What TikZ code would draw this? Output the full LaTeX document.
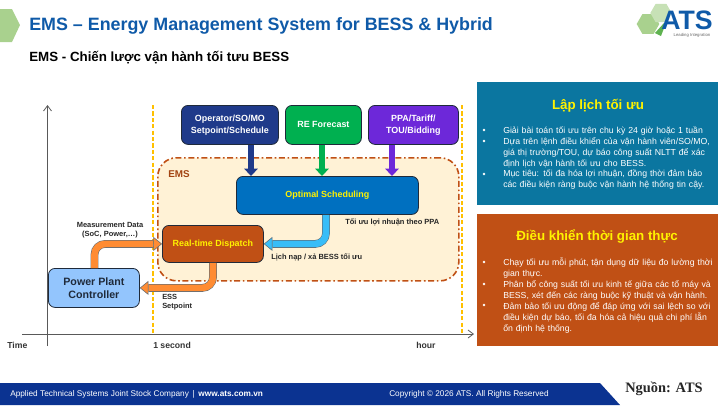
\documentclass[tikz,border=0pt]{standalone}
\usepackage{fontspec}
\setmainfont{Liberation Sans}
\newfontfamily\serifbold{Liberation Serif}
\usepackage{tikz}
\usetikzlibrary{arrows.meta,positioning,shapes.geometric,calc}
\definecolor{ATSBlue}{HTML}{0F5AA8}
\definecolor{ATSNavy}{HTML}{0B3391}
\definecolor{ATSGreen}{HTML}{A9D18E}
\definecolor{OpNavy}{HTML}{1F3A8A}
\definecolor{ReGreen}{HTML}{00B050}
\definecolor{PpaPurple}{HTML}{6D28D9}
\definecolor{SchedBlue}{HTML}{0070C0}
\definecolor{RtOrange}{HTML}{C05015}
\definecolor{PanelBlue}{HTML}{0B76A0}
\definecolor{EmsFill}{HTML}{FFF2D6}
\definecolor{PlantBlue}{HTML}{93C5FD}
\definecolor{ArrOrange}{HTML}{FF8C33}
\definecolor{ArrCyan}{HTML}{38BDF8}
\definecolor{BoxEdge}{HTML}{1F2A3A}
\definecolor{ArrEdge}{HTML}{5F6B75}
\definecolor{LimitYellow}{HTML}{FFC000}
\begin{document}
\begin{tikzpicture}[
  x=0.75pt,y=-0.75pt,
  box/.style={draw=BoxEdge,line width=0.6pt,rounded corners=5pt,align=center,font=\bfseries\fontsize{6.7}{9}\selectfont,text=white},
  panel/.style={anchor=north west,inner sep=0pt,minimum width=180.75pt},
  paneltext/.style={anchor=north west,inner sep=0pt,text=white,text width=168pt,font=\fontsize{6.54}{8.15}\selectfont,align=left},
  lbl/.style={font=\bfseries\fontsize{5.6}{6.8}\selectfont,text=black!85,align=center},
  axislbl/.style={font=\bfseries\fontsize{6.5}{8}\selectfont,text=black!80},
  limit/.style={draw=LimitYellow,line width=1.1pt,dash pattern=on 3.2pt off 1.6pt},
  feed/.style={line width=4.5pt,-{Triangle[length=5.5pt,width=10pt]}},
  bent/.style={draw=ArrEdge,line width=0.4pt,double distance=5pt,rounded corners=8pt,-{Triangle[length=6.5pt,width=10.5pt,line width=0.4pt,fill=#1]},double=#1}
]
\useasboundingbox (0,0) rectangle (720,405);
% header
\fill[ATSGreen] (0,9) -- (12,9) -- (20,25) -- (12,42) -- (0,42) -- cycle;
\node[anchor=west,inner sep=0pt,text=ATSBlue,font=\bfseries\fontsize{13.4}{16}\selectfont] (title) at (29,26) {EMS – Energy Management System for BESS \& Hybrid};
\node[anchor=west,inner sep=0pt,font=\bfseries\fontsize{10}{12}\selectfont] (subtitle) at (29,58) {EMS - Chiến lược vận hành tối tưu BESS};
% logo
\node[regular polygon,regular polygon sides=6,fill=ATSGreen,minimum size=17pt,inner sep=0pt] (hexa) at (648,24) {};
\node[regular polygon,regular polygon sides=6,fill=ATSGreen!65,minimum size=16pt,inner sep=0pt] (hexb) at (661,13) {};
\fill[ATSGreen!70!green!80!black] (655,33) -- (664,23) -- (666,23) -- (661,36) -- cycle;
\node[anchor=west,inner sep=0pt,text=ATSBlue,font=\bfseries\fontsize{20}{22}\selectfont] (logo) at (661,20) {ATS};
\node[anchor=center,inner sep=0pt,text=black!60,font=\fontsize{3.2}{3.4}\selectfont] (tagline) at (692,35) {Leading Integration};
% ems region and time axis
\node[draw=RtOrange,fill=EmsFill,line width=1.2pt,dash pattern=on 4.5pt off 2pt on 1.2pt off 2pt,rounded corners=14pt,anchor=north west,minimum width=225.75pt,minimum height=92.25pt,inner sep=0pt] (ems) at (157,157) {};
\node[anchor=west,inner sep=0pt,text=RtOrange!85!black,font=\bfseries\fontsize{7.4}{8}\selectfont] (emslbl) at (168,174) {EMS};
\coordinate (vtop) at (47.5,105);
\coordinate (vend) at (47.5,346);
\coordinate (tstart) at (22,334);
\coordinate (tend) at (474,334);
\draw[black!65,line width=0.6pt,-{Straight Barb[length=4pt,width=6pt]}] (vend) -- (vtop);
\draw[black!65,line width=0.6pt,-{Straight Barb[length=4pt,width=6pt]}] (tstart) -- (tend);
\draw[limit] (153,105) -- (153,334);
\draw[limit] (462,105) -- (462,334);
\node[axislbl,anchor=west,inner sep=0pt] (timelbl) at (7,345.5) {Time};
\node[axislbl,anchor=west,inner sep=0pt] (seclbl) at (153,345.5) {1 second};
\node[axislbl,anchor=west,inner sep=0pt] (hourlbl) at (416,345.5) {hour};
% boxes
\node[box,fill=OpNavy,anchor=north west,minimum width=72.75pt,minimum height=29.25pt,inner sep=0pt] (operator) at (181,105) {Operator/SO/MO\\Setpoint/Schedule};
\node[box,fill=ReGreen,anchor=north west,minimum width=57pt,minimum height=29.25pt,inner sep=0pt] (forecast) at (285,105) {RE Forecast};
\node[box,fill=PpaPurple,anchor=north west,minimum width=67.5pt,minimum height=29.25pt,inner sep=0pt] (ppa) at (368,105) {PPA/Tariff/\\TOU/Bidding};
\node[box,fill=SchedBlue,text=yellow,anchor=north west,minimum width=136.5pt,minimum height=28.5pt,inner sep=0pt] (sched) at (236,176) {Optimal Scheduling};
\node[box,fill=RtOrange,text=yellow,anchor=north west,minimum width=75.75pt,minimum height=27.75pt,inner sep=0pt] (dispatch) at (162,225) {Real-time Dispatch};
\node[box,fill=PlantBlue,text=BoxEdge,anchor=north west,minimum width=68.25pt,minimum height=29.25pt,inner sep=0pt,font=\bfseries\fontsize{8}{10}\selectfont] (plant) at (48,268) {Power Plant\\Controller};
% arrows
\draw[feed,draw=OpNavy] (251,0 |- operator.south) -- (251,0 |- sched.north);
\draw[feed,draw=ReGreen] (322,0 |- forecast.south) -- (322,0 |- sched.north);
\draw[feed,draw=PpaPurple] (392,0 |- ppa.south) -- (392,0 |- sched.north);
\draw[bent=ArrCyan] (326,0 |- sched.south) |- (dispatch.east);
\draw[bent=ArrOrange] (94.5,0 |- plant.north) |- (dispatch.west);
\draw[bent=ArrOrange] (213,0 |- dispatch.south) |- (plant.east);
% labels
\node[lbl] (measure) at (110,230) {Measurement Data\\(SoC, Power,…)};
\node[lbl,anchor=west,inner sep=0pt] (profit) at (345,222) {Tối ưu lợi nhuận theo PPA};
\node[lbl,anchor=west,inner sep=0pt] (charge) at (271,257) {Lịch nạp / xả BESS tối ưu};
\node[lbl,anchor=north west,inner sep=0pt,align=left] (setpoint) at (162,294) {ESS\\Setpoint};
% right panels
\node[panel,fill=PanelBlue,minimum height=92.25pt] (planpanel) at (477,82) {};
\node[text=yellow,inner sep=0pt,font=\bfseries\fontsize{10}{12}\selectfont] (plantitle) at (598,106) {Lập lịch tối ưu};
\node[paneltext] (plantext) at (503,126.5) {Giải bài toán tối ưu trên chu kỳ 24 giờ hoặc 1 tuần\\Dựa trên lệnh điều khiển của vận hành viên/SO/MO,\\giá thị trường/TOU, dự báo công suất NLTT để xác\\định lịch vận hành tối ưu cho BESS.\\Mục tiêu: tối đa hóa lợi nhuận, đồng thời đảm bảo\\các điều kiện ràng buộc vận hành hệ thống tin cậy.};
\node[panel,fill=RtOrange,minimum height=99pt] (rtpanel) at (477,214) {};
\node[text=yellow,inner sep=0pt,font=\bfseries\fontsize{10}{12}\selectfont] (rttitle) at (597,237) {Điều khiển thời gian thực};
\node[paneltext] (rttext) at (503,258) {Chạy tối ưu mỗi phút, tận dụng dữ liệu đo lường thời\\gian thực.\\Phân bổ công suất tối ưu kinh tế giữa các tổ máy và\\BESS, xét đến các ràng buộc kỹ thuật và vận hành.\\Đảm bảo tối ưu động để đáp ứng với sai lệch so với\\điều kiện dự báo, tối đa hóa cả hiệu quả chi phí lẫn\\ổn định hệ thống.};
\foreach \y in {130,141,174}
  \fill[white] (484,\y) circle (1pt);
\foreach \y in {262,284,305}
  \fill[white] (484,\y) circle (1pt);
% footer
\fill[ATSNavy] (0,383) -- (600,383) -- (620,405) -- (0,405) -- cycle;
\node[anchor=west,inner sep=0pt,text=white,font=\fontsize{6.2}{7}\selectfont] (company) at (10,394) {Applied Technical Systems Joint Stock Company \,|\, \textbf{www.ats.com.vn}};
\node[anchor=west,inner sep=0pt,text=white,font=\fontsize{6.2}{7}\selectfont] (copy) at (389,394) {Copyright © 2026 ATS. All Rights Reserved};
\node[anchor=west,inner sep=0pt,font=\serifbold\bfseries\fontsize{10.8}{12}\selectfont,text=black!85] (source) at (625,389) {Nguồn: ATS};
\end{tikzpicture}
\end{document}
